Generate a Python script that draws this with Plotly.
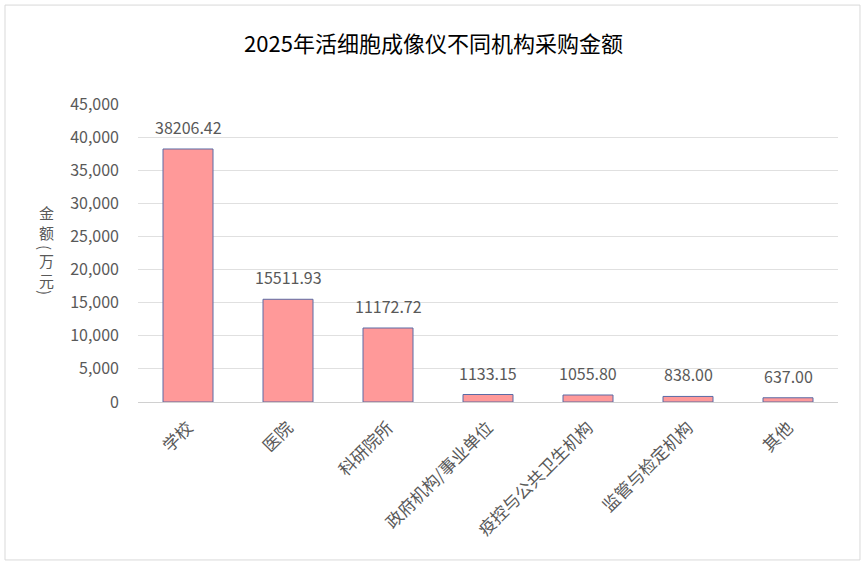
import plotly.graph_objects as go

categories = ["学校", "医院", "科研院所", "政府机构/事业单位", "疫控与公共卫生机构", "监管与检定机构", "其他"]
values = [38206.42, 15511.93, 11172.72, 1133.15, 1055.80, 838.00, 637.00]
tick_vals = [0, 5000, 10000, 15000, 20000, 25000, 30000, 35000, 40000, 45000]
tick_text = ["0", "5,000", "10,000", "15,000", "20,000", "25,000", "30,000", "35,000", "40,000", "45,000"]
# vertical axis title pieces: (text, rotated?)
y_title_parts = [("金<br>额", False), ("(", True), ("万<br>元", False), (")", True)]

FONT = "Noto Sans CJK SC"
GRAY = "#595959"
TOP, BOT = 104, 402

fig = go.Figure(go.Bar(
    x=categories, y=values, width=0.5,
    marker=dict(color="#FF9999", line=dict(color="#5B6BA5", width=1)),
    hoverinfo="skip",
))

for c, v in zip(categories, values):
    fig.add_annotation(x=c, y=v, text=f"{v:.2f}", showarrow=False,
                       yanchor="bottom", yshift=8,
                       font=dict(family=FONT, size=16, color=GRAY))

# stacked vertical axis title
part_px = [222, 247, 270.5, 292]
for (txt, rot), py in zip(y_title_parts, part_px):
    fig.add_annotation(xref="paper", yref="paper", x=(46 - 138) / 700,
                       y=(BOT - py) / (BOT - TOP), text=txt, showarrow=False,
                       xanchor="center", yanchor="middle",
                       textangle=90 if rot else 0,
                       font=dict(family=FONT, size=15, color=GRAY))

fig.add_shape(type="rect", xref="paper", yref="paper",
              x0=-0.19, x1=1.0314, y0=-0.530, y1=1.332,
              line=dict(color="#d9d9d9", width=1), fillcolor="rgba(0,0,0,0)", layer="below")

fig.update_layout(
    width=867, height=567,
    margin=dict(l=138, r=29, t=104, b=165),
    paper_bgcolor="white", plot_bgcolor="white",
    title=dict(text="2025年活细胞成像仪不同机构采购金额", x=0.5, xref="container",
               xanchor="center", y=1 - 44 / 567, yanchor="middle",
               font=dict(family=FONT, size=22, color="black")),
    font=dict(family=FONT, color=GRAY),
    showlegend=False,
    xaxis=dict(tickangle=-45, tickfont=dict(family=FONT, size=17, color=GRAY),
               showline=True, linecolor="#d0d0d0", linewidth=1, ticks="",
               showgrid=False, ticklabelstandoff=8),
    yaxis=dict(range=[0, 45000], tickvals=tick_vals, ticktext=tick_text,
               tickfont=dict(family=FONT, size=16, color=GRAY),
               showgrid=True, gridcolor="#e0e0e0", gridwidth=1,
               zeroline=False, showline=False, ticks="", ticklen=0,
               ticklabelstandoff=18),
)

fig.write_html("out.html")
